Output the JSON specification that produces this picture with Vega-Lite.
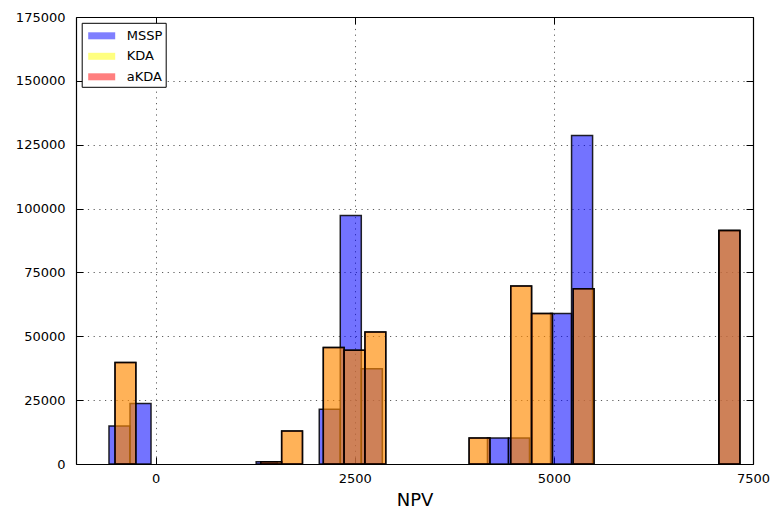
{
  "$schema": "https://vega.github.io/schema/vega-lite/v6.json",
  "width": 677,
  "height": 447,
  "autosize": {"type": "none"},
  "padding": {"left": 76, "top": 17, "right": 18, "bottom": 51},
  "background": "white",
  "config": {
    "view": {"stroke": null},
    "font": "DejaVu Sans",
    "legend": {"strokeWidth": 1},
    "axis": {
      "tickSize": -7,
      "tickColor": "black",
      "tickWidth": 1,
      "domainColor": "black",
      "domainWidth": 1.2,
      "labelColor": "black",
      "labelFontSize": 13,
      "labelFont": "DejaVu Sans",
      "gridColor": "#333333",
      "gridDash": [1.2, 4.5],
      "gridWidth": 0.8,
      "titleFont": "DejaVu Sans",
      "titleFontWeight": "normal",
      "titleColor": "black"
    }
  },
  "data": {
    "values": [
      {"series": "MSSP", "bin_start": -586, "bin_end": -322, "n": 14900},
      {"series": "MSSP", "bin_start": -322, "bin_end": -58, "n": 23700},
      {"series": "MSSP", "bin_start": 1262, "bin_end": 1526, "n": 900},
      {"series": "MSSP", "bin_start": 2054, "bin_end": 2318, "n": 21400},
      {"series": "MSSP", "bin_start": 2318, "bin_end": 2582, "n": 97300},
      {"series": "MSSP", "bin_start": 2582, "bin_end": 2846, "n": 37300},
      {"series": "MSSP", "bin_start": 4166, "bin_end": 4430, "n": 10200},
      {"series": "MSSP", "bin_start": 4430, "bin_end": 4694, "n": 10200},
      {"series": "MSSP", "bin_start": 4958, "bin_end": 5222, "n": 58900},
      {"series": "MSSP", "bin_start": 5222, "bin_end": 5486, "n": 128600},
      {"series": "MSSP", "bin_start": 7070, "bin_end": 7334, "n": 91400},
      {"series": "KDA", "bin_start": -510, "bin_end": -248.5, "n": 39700},
      {"series": "KDA", "bin_start": 1320.5, "bin_end": 1582, "n": 900},
      {"series": "KDA", "bin_start": 1582, "bin_end": 1843.5, "n": 12900},
      {"series": "KDA", "bin_start": 2105, "bin_end": 2366.5, "n": 45600},
      {"series": "KDA", "bin_start": 2366.5, "bin_end": 2628, "n": 44500},
      {"series": "KDA", "bin_start": 2628, "bin_end": 2889.5, "n": 51700},
      {"series": "KDA", "bin_start": 3935.5, "bin_end": 4197, "n": 10200},
      {"series": "KDA", "bin_start": 4458.5, "bin_end": 4720, "n": 69700},
      {"series": "KDA", "bin_start": 4720, "bin_end": 4981.5, "n": 58900},
      {"series": "KDA", "bin_start": 5243, "bin_end": 5504.5, "n": 68600},
      {"series": "KDA", "bin_start": 7073.5, "bin_end": 7335, "n": 91400},
      {"series": "aKDA", "bin_start": -510, "bin_end": -248.5, "n": 39700},
      {"series": "aKDA", "bin_start": 1320.5, "bin_end": 1582, "n": 900},
      {"series": "aKDA", "bin_start": 1582, "bin_end": 1843.5, "n": 12900},
      {"series": "aKDA", "bin_start": 2105, "bin_end": 2366.5, "n": 45600},
      {"series": "aKDA", "bin_start": 2366.5, "bin_end": 2628, "n": 44500},
      {"series": "aKDA", "bin_start": 2628, "bin_end": 2889.5, "n": 51700},
      {"series": "aKDA", "bin_start": 3935.5, "bin_end": 4197, "n": 10200},
      {"series": "aKDA", "bin_start": 4458.5, "bin_end": 4720, "n": 69700},
      {"series": "aKDA", "bin_start": 4720, "bin_end": 4981.5, "n": 58900},
      {"series": "aKDA", "bin_start": 5243, "bin_end": 5504.5, "n": 68600},
      {"series": "aKDA", "bin_start": 7073.5, "bin_end": 7335, "n": 91400}
    ]
  },
  "layer": [
    {
      "mark": {"type": "bar", "stroke": "black", "strokeWidth": 1.5, "strokeOpacity": 0.85},
      "encoding": {
        "x": {
          "field": "bin_start",
          "type": "quantitative",
          "scale": {"domain": [-1000, 7500], "nice": false, "zero": false},
          "axis": {
            "orient": "bottom",
            "values": [0, 2500, 5000, 7500],
            "format": "d",
            "title": "NPV",
            "titleFontSize": 18,
            "titlePadding": 6,
            "labelPadding": 15,
            "grid": true,
            "labelFlush": false
          }
        },
        "x2": {"field": "bin_end"},
        "y": {
          "field": "n",
          "type": "quantitative",
          "scale": {"domain": [0, 175000], "nice": false},
          "axis": {
            "orient": "left",
            "values": [0, 25000, 50000, 75000, 100000, 125000, 150000, 175000],
            "format": "d",
            "title": null,
            "labelPadding": 18,
            "grid": true
          }
        },
        "y2": {"datum": 0},
        "color": {
          "field": "series",
          "type": "nominal",
          "scale": {"domain": ["MSSP", "KDA", "aKDA"], "range": ["#0000ff", "#ffff00", "#ff0000"]},
          "legend": {
            "orient": "none",
            "legendX": 5.7,
            "legendY": 5.8,
            "direction": "vertical",
            "title": null,
            "fillColor": "white",
            "strokeColor": "black",
            "cornerRadius": 0,
            "padding": 3,
            "symbolType": "M-1.35,-0.35L1.35,-0.35L1.35,0.35L-1.35,0.35Z",
            "symbolSize": 400,
            "symbolOffset": 7,
            "symbolStrokeWidth": 0,
            "symbolOpacity": 0.5,
            "labelOffset": 15,
            "rowPadding": 3.5,
            "labelFontSize": 13,
            "labelColor": "black",
            "labelFont": "DejaVu Sans",
            "encode": {
              "symbols": {
                "update": {
                  "fillOpacity": {"signal": "datum.value === 'aKDA' ? 0.6 : 1"}
                }
              }
            }
          }
        },
        "fillOpacity": {
          "field": "series",
          "type": "nominal",
          "scale": {"type": "ordinal", "domain": ["MSSP", "KDA", "aKDA"], "range": [0.55, 0.5, 0.3]},
          "legend": null
        }
      }
    },
    {
      "mark": {"type": "point", "opacity": 0},
      "encoding": {
        "x": {
          "field": "bin_start",
          "type": "quantitative",
          "axis": {"orient": "top", "values": [0, 2500, 5000, 7500], "labels": false, "title": null, "grid": false}
        },
        "y": {
          "field": "n",
          "type": "quantitative",
          "axis": {
            "orient": "right",
            "values": [0, 25000, 50000, 75000, 100000, 125000, 150000, 175000],
            "labels": false,
            "title": null,
            "grid": false
          }
        }
      }
    }
  ]
}
